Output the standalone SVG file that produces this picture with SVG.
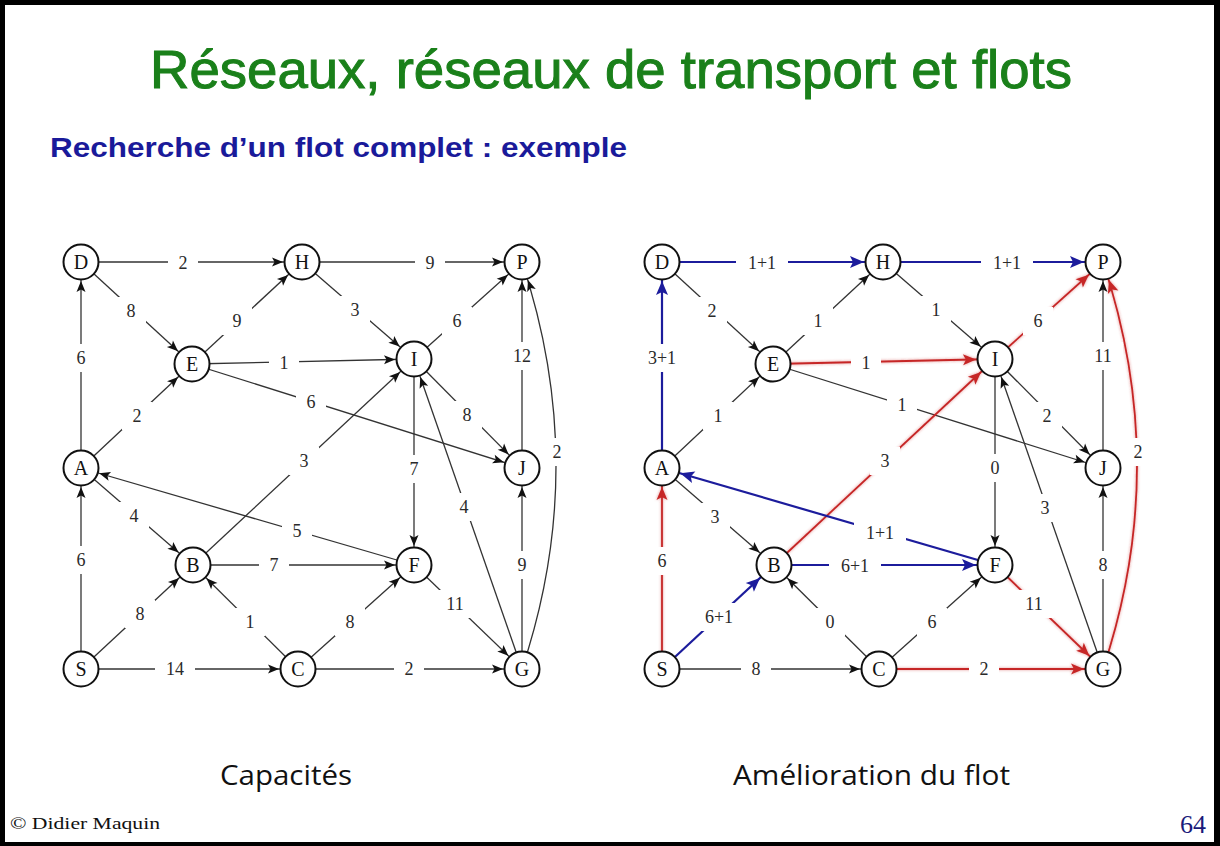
<svg xmlns="http://www.w3.org/2000/svg" width="1220" height="846" viewBox="0 0 1220 846">
  <defs>
    <style>
      .frame { fill: #000; }
      .page { fill: #fff; }
      .e { fill: none; stroke: #333; stroke-width: 1.3; marker-end: url(#ah-k); }
      .eb { fill: none; stroke: #1c1c9c; stroke-width: 2.2; marker-end: url(#ah-b); }
      .er { fill: none; stroke: #c62626; stroke-width: 1.8; marker-end: url(#ah-r); filter: url(#halo); }
      .bg { fill: #fff; }
      .lbl { font-family: "Liberation Serif", "Times New Roman", serif; font-size: 18px; fill: #2a2a2a; text-anchor: middle; dominant-baseline: central; }
      .node circle { fill: #fff; stroke: #111; stroke-width: 2; }
      .node text { font-family: "Liberation Serif", "Times New Roman", serif; font-size: 20px; fill: #111; text-anchor: middle; dominant-baseline: central; }
      .title { font-family: "Liberation Sans", Arial, sans-serif; font-size: 53px; fill: #1a801a; stroke: #1a801a; stroke-width: 1; }
      .sub { font-family: "Liberation Sans", Arial, sans-serif; font-weight: bold; font-size: 28px; fill: #1a1a9a; }
      .cap { font-family: "Open Sans", "Liberation Sans", sans-serif; font-size: 27px; fill: #111; }
      .foot { font-family: "Liberation Serif", "Times New Roman", serif; fill: #111; }
    </style>
    <marker id="ah-k" markerUnits="userSpaceOnUse" orient="auto" refX="0" refY="0" markerWidth="1" markerHeight="1" overflow="visible">
      <path d="M-30,-4.5 L-19,0 L-30,4.5 L-27.5,0 z" fill="#111"/>
    </marker>
    <marker id="ah-b" markerUnits="userSpaceOnUse" orient="auto" refX="0" refY="0" markerWidth="1" markerHeight="1" overflow="visible">
      <path d="M-33,-6 L-19,0 L-33,6 L-30,0 z" fill="#1c1c9c"/>
    </marker>
    <marker id="ah-r" markerUnits="userSpaceOnUse" orient="auto" refX="0" refY="0" markerWidth="1" markerHeight="1" overflow="visible">
      <path d="M-32,-5.5 L-19,0 L-32,5.5 L-29,0 z" fill="#c62626"/>
    </marker>
    <!-- soft glow for the augmenting path; user-space region so straight segments keep it -->
    <filter id="halo" filterUnits="userSpaceOnUse" x="-100" y="0" width="800" height="846">
      <feGaussianBlur in="SourceGraphic" stdDeviation="1.6" result="b"/>
      <feComponentTransfer in="b" result="soft"><feFuncA type="linear" slope="0.5"/></feComponentTransfer>
      <feMerge><feMergeNode in="soft"/><feMergeNode in="SourceGraphic"/></feMerge>
    </filter>
  </defs>

  <!-- slide frame -->
  <rect class="frame" x="0" y="0" width="1220" height="846"/>
  <rect class="page" x="5" y="5" width="1209" height="837"/>

  <!-- headings -->
  <text class="title" x="150" y="88" textLength="922" lengthAdjust="spacingAndGlyphs">Réseaux, réseaux de transport et flots</text>
  <text class="sub" x="50" y="157" textLength="577" lengthAdjust="spacingAndGlyphs">Recherche d’un flot complet : exemple</text>

  <!-- ===== left network: capacities ===== -->
  <g id="capacities">
    <g id="cap-connectors">
      <path class="e" d="M81,262 L302,262"/>
      <path class="e" d="M302,262 L522,262"/>
      <path class="e" d="M81,262 L192,364"/>
      <path class="e" d="M192,364 L302,262"/>
      <path class="e" d="M302,262 L414,359"/>
      <path class="e" d="M414,359 L522,262"/>
      <path class="e" d="M192,364 L414,359"/>
      <path class="e" d="M192,364 L522,468"/>
      <path class="e" d="M414,359 L522,468"/>
      <path class="e" d="M81,468 L81,262"/>
      <path class="e" d="M81,468 L192,364"/>
      <path class="e" d="M522,468 L522,262"/>
      <path class="e" d="M522,669 Q590,466 522,262"/>
      <path class="e" d="M414,359 L414,565"/>
      <path class="e" d="M522,669 L414,359"/>
      <path class="e" d="M193,565 L414,359"/>
      <path class="e" d="M414,565 L81,468"/>
      <path class="e" d="M81,468 L193,565"/>
      <path class="e" d="M193,565 L414,565"/>
      <path class="e" d="M81,669 L81,468"/>
      <path class="e" d="M81,669 L193,565"/>
      <path class="e" d="M298,669 L193,565"/>
      <path class="e" d="M298,669 L414,565"/>
      <path class="e" d="M414,565 L522,669"/>
      <path class="e" d="M522,669 L522,468"/>
      <path class="e" d="M81,669 L298,669"/>
      <path class="e" d="M298,669 L522,669"/>

      <!-- label gaps -->
      <rect class="bg" x="168" y="249" width="30" height="28"/>
      <rect class="bg" x="415" y="249" width="30" height="28"/>
      <rect class="bg" x="116" y="297" width="30" height="28"/>
      <rect class="bg" x="222" y="307" width="30" height="28"/>
      <rect class="bg" x="340" y="296" width="30" height="28"/>
      <rect class="bg" x="442" y="307" width="30" height="28"/>
      <rect class="bg" x="269" y="349" width="30" height="28"/>
      <rect class="bg" x="296" y="388" width="30" height="28"/>
      <rect class="bg" x="452" y="401" width="30" height="28"/>
      <rect class="bg" x="66" y="344" width="30" height="28"/>
      <rect class="bg" x="122" y="402" width="30" height="28"/>
      <rect class="bg" x="502" y="342" width="40" height="28"/>
      <rect class="bg" x="542" y="438" width="30" height="28"/>
      <rect class="bg" x="399" y="455" width="30" height="28"/>
      <rect class="bg" x="449" y="493" width="30" height="28"/>
      <rect class="bg" x="289" y="447" width="30" height="28"/>
      <rect class="bg" x="282" y="517" width="30" height="28"/>
      <rect class="bg" x="119" y="502" width="30" height="28"/>
      <rect class="bg" x="259" y="551" width="30" height="28"/>
      <rect class="bg" x="66" y="546" width="30" height="28"/>
      <rect class="bg" x="125" y="600" width="30" height="28"/>
      <rect class="bg" x="235" y="608" width="30" height="28"/>
      <rect class="bg" x="335" y="608" width="30" height="28"/>
      <rect class="bg" x="435" y="590" width="40" height="28"/>
      <rect class="bg" x="507" y="551" width="30" height="28"/>
      <rect class="bg" x="155" y="655" width="40" height="28"/>
      <rect class="bg" x="394" y="655" width="30" height="28"/>

      <text class="lbl" x="183" y="263">2</text>
      <text class="lbl" x="430" y="263">9</text>
      <text class="lbl" x="131" y="311">8</text>
      <text class="lbl" x="237" y="321">9</text>
      <text class="lbl" x="355" y="310">3</text>
      <text class="lbl" x="457" y="321">6</text>
      <text class="lbl" x="284" y="363">1</text>
      <text class="lbl" x="311" y="402">6</text>
      <text class="lbl" x="467" y="415">8</text>
      <text class="lbl" x="81" y="358">6</text>
      <text class="lbl" x="137" y="416">2</text>
      <text class="lbl" x="522" y="356">12</text>
      <text class="lbl" x="557" y="452">2</text>
      <text class="lbl" x="414" y="469">7</text>
      <text class="lbl" x="464" y="507">4</text>
      <text class="lbl" x="304" y="461">3</text>
      <text class="lbl" x="297" y="531">5</text>
      <text class="lbl" x="134" y="516">4</text>
      <text class="lbl" x="274" y="565">7</text>
      <text class="lbl" x="81" y="560">6</text>
      <text class="lbl" x="140" y="614">8</text>
      <text class="lbl" x="250" y="622">1</text>
      <text class="lbl" x="350" y="622">8</text>
      <text class="lbl" x="455" y="604">11</text>
      <text class="lbl" x="522" y="565">9</text>
      <text class="lbl" x="175" y="669">14</text>
      <text class="lbl" x="409" y="669">2</text>
    </g>
    <g id="cap-D" class="node"><circle cx="81" cy="262" r="17.5"/><text x="81" y="262">D</text></g>
    <g id="cap-H" class="node"><circle cx="302" cy="262" r="17.5"/><text x="302" y="262">H</text></g>
    <g id="cap-P" class="node"><circle cx="522" cy="262" r="17.5"/><text x="522" y="262">P</text></g>
    <g id="cap-E" class="node"><circle cx="192" cy="364" r="17.5"/><text x="192" y="364">E</text></g>
    <g id="cap-I" class="node"><circle cx="414" cy="359" r="17.5"/><text x="414" y="359">I</text></g>
    <g id="cap-A" class="node"><circle cx="81" cy="468" r="17.5"/><text x="81" y="468">A</text></g>
    <g id="cap-J" class="node"><circle cx="522" cy="468" r="17.5"/><text x="522" y="468">J</text></g>
    <g id="cap-B" class="node"><circle cx="193" cy="565" r="17.5"/><text x="193" y="565">B</text></g>
    <g id="cap-F" class="node"><circle cx="414" cy="565" r="17.5"/><text x="414" y="565">F</text></g>
    <g id="cap-S" class="node"><circle cx="81" cy="669" r="17.5"/><text x="81" y="669">S</text></g>
    <g id="cap-C" class="node"><circle cx="298" cy="669" r="17.5"/><text x="298" y="669">C</text></g>
    <g id="cap-G" class="node"><circle cx="522" cy="669" r="17.5"/><text x="522" y="669">G</text></g>
  </g>

  <!-- ===== right network: flow improvement ===== -->
  <g id="improvement" transform="translate(581 0)">
    <g id="imp-connectors">
      <path class="e" d="M81,262 L192,364"/>
      <path class="e" d="M192,364 L302,262"/>
      <path class="e" d="M302,262 L414,359"/>
      <path class="e" d="M192,364 L522,468"/>
      <path class="e" d="M414,359 L522,468"/>
      <path class="e" d="M81,468 L192,364"/>
      <path class="e" d="M522,468 L522,262"/>
      <path class="e" d="M414,359 L414,565"/>
      <path class="e" d="M522,669 L414,359"/>
      <path class="e" d="M81,468 L193,565"/>
      <path class="e" d="M298,669 L193,565"/>
      <path class="e" d="M298,669 L414,565"/>
      <path class="e" d="M522,669 L522,468"/>
      <path class="e" d="M81,669 L298,669"/>

      <path class="er" d="M414,359 L522,262"/>
      <path class="er" d="M192,364 L414,359"/>
      <path class="er" d="M193,565 L414,359"/>
      <path class="er" d="M81,669 L81,468"/>
      <path class="er" d="M414,565 L522,669"/>
      <path class="er" d="M298,669 L522,669"/>
      <path class="er" d="M522,669 Q590,466 522,262"/>

      <path class="eb" d="M81,262 L302,262"/>
      <path class="eb" d="M302,262 L522,262"/>
      <path class="eb" d="M81,468 L81,262"/>
      <path class="eb" d="M414,565 L81,468"/>
      <path class="eb" d="M193,565 L414,565"/>
      <path class="eb" d="M81,669 L193,565"/>

      <!-- label gaps -->
      <rect class="bg" x="155" y="249" width="52" height="28"/>
      <rect class="bg" x="400" y="249" width="52" height="28"/>
      <rect class="bg" x="116" y="297" width="30" height="28"/>
      <rect class="bg" x="222" y="307" width="30" height="28"/>
      <rect class="bg" x="340" y="296" width="30" height="28"/>
      <rect class="bg" x="442" y="307" width="30" height="28"/>
      <rect class="bg" x="270" y="349" width="30" height="28"/>
      <rect class="bg" x="306" y="391" width="30" height="28"/>
      <rect class="bg" x="451" y="402" width="30" height="28"/>
      <rect class="bg" x="55" y="344" width="52" height="28"/>
      <rect class="bg" x="122" y="402" width="30" height="28"/>
      <rect class="bg" x="502" y="342" width="40" height="28"/>
      <rect class="bg" x="542" y="438" width="30" height="28"/>
      <rect class="bg" x="399" y="454" width="30" height="28"/>
      <rect class="bg" x="449" y="494" width="30" height="28"/>
      <rect class="bg" x="289" y="447" width="30" height="28"/>
      <rect class="bg" x="273" y="519" width="52" height="28"/>
      <rect class="bg" x="119" y="503" width="30" height="28"/>
      <rect class="bg" x="248" y="552" width="52" height="28"/>
      <rect class="bg" x="66" y="547" width="30" height="28"/>
      <rect class="bg" x="112" y="603" width="52" height="28"/>
      <rect class="bg" x="234" y="608" width="30" height="28"/>
      <rect class="bg" x="336" y="608" width="30" height="28"/>
      <rect class="bg" x="433" y="590" width="40" height="28"/>
      <rect class="bg" x="507" y="551" width="30" height="28"/>
      <rect class="bg" x="160" y="655" width="30" height="28"/>
      <rect class="bg" x="388" y="655" width="30" height="28"/>

      <text class="lbl" x="181" y="263">1+1</text>
      <text class="lbl" x="426" y="263">1+1</text>
      <text class="lbl" x="131" y="311">2</text>
      <text class="lbl" x="237" y="321">1</text>
      <text class="lbl" x="355" y="310">1</text>
      <text class="lbl" x="457" y="321">6</text>
      <text class="lbl" x="285" y="363">1</text>
      <text class="lbl" x="321" y="405">1</text>
      <text class="lbl" x="466" y="416">2</text>
      <text class="lbl" x="81" y="358">3+1</text>
      <text class="lbl" x="137" y="416">1</text>
      <text class="lbl" x="522" y="356">11</text>
      <text class="lbl" x="557" y="452">2</text>
      <text class="lbl" x="414" y="468">0</text>
      <text class="lbl" x="464" y="508">3</text>
      <text class="lbl" x="304" y="461">3</text>
      <text class="lbl" x="299" y="533">1+1</text>
      <text class="lbl" x="134" y="517">3</text>
      <text class="lbl" x="274" y="566">6+1</text>
      <text class="lbl" x="81" y="561">6</text>
      <text class="lbl" x="138" y="617">6+1</text>
      <text class="lbl" x="249" y="622">0</text>
      <text class="lbl" x="351" y="622">6</text>
      <text class="lbl" x="453" y="604">11</text>
      <text class="lbl" x="522" y="565">8</text>
      <text class="lbl" x="175" y="669">8</text>
      <text class="lbl" x="403" y="669">2</text>
    </g>
    <g id="imp-D" class="node"><circle cx="81" cy="262" r="17.5"/><text x="81" y="262">D</text></g>
    <g id="imp-H" class="node"><circle cx="302" cy="262" r="17.5"/><text x="302" y="262">H</text></g>
    <g id="imp-P" class="node"><circle cx="522" cy="262" r="17.5"/><text x="522" y="262">P</text></g>
    <g id="imp-E" class="node"><circle cx="192" cy="364" r="17.5"/><text x="192" y="364">E</text></g>
    <g id="imp-I" class="node"><circle cx="414" cy="359" r="17.5"/><text x="414" y="359">I</text></g>
    <g id="imp-A" class="node"><circle cx="81" cy="468" r="17.5"/><text x="81" y="468">A</text></g>
    <g id="imp-J" class="node"><circle cx="522" cy="468" r="17.5"/><text x="522" y="468">J</text></g>
    <g id="imp-B" class="node"><circle cx="193" cy="565" r="17.5"/><text x="193" y="565">B</text></g>
    <g id="imp-F" class="node"><circle cx="414" cy="565" r="17.5"/><text x="414" y="565">F</text></g>
    <g id="imp-S" class="node"><circle cx="81" cy="669" r="17.5"/><text x="81" y="669">S</text></g>
    <g id="imp-C" class="node"><circle cx="298" cy="669" r="17.5"/><text x="298" y="669">C</text></g>
    <g id="imp-G" class="node"><circle cx="522" cy="669" r="17.5"/><text x="522" y="669">G</text></g>
  </g>

  <!-- captions and footer -->
  <text class="cap" x="220" y="785" textLength="132" lengthAdjust="spacingAndGlyphs">Capacités</text>
  <text class="cap" x="733" y="785" textLength="277" lengthAdjust="spacingAndGlyphs">Amélioration du flot</text>
  <text class="foot" x="10" y="829" font-size="17" textLength="150" lengthAdjust="spacingAndGlyphs">© Didier Maquin</text>
  <text class="foot" x="1180" y="833" font-size="26" style="fill:#1a1a7a">64</text>
</svg>
